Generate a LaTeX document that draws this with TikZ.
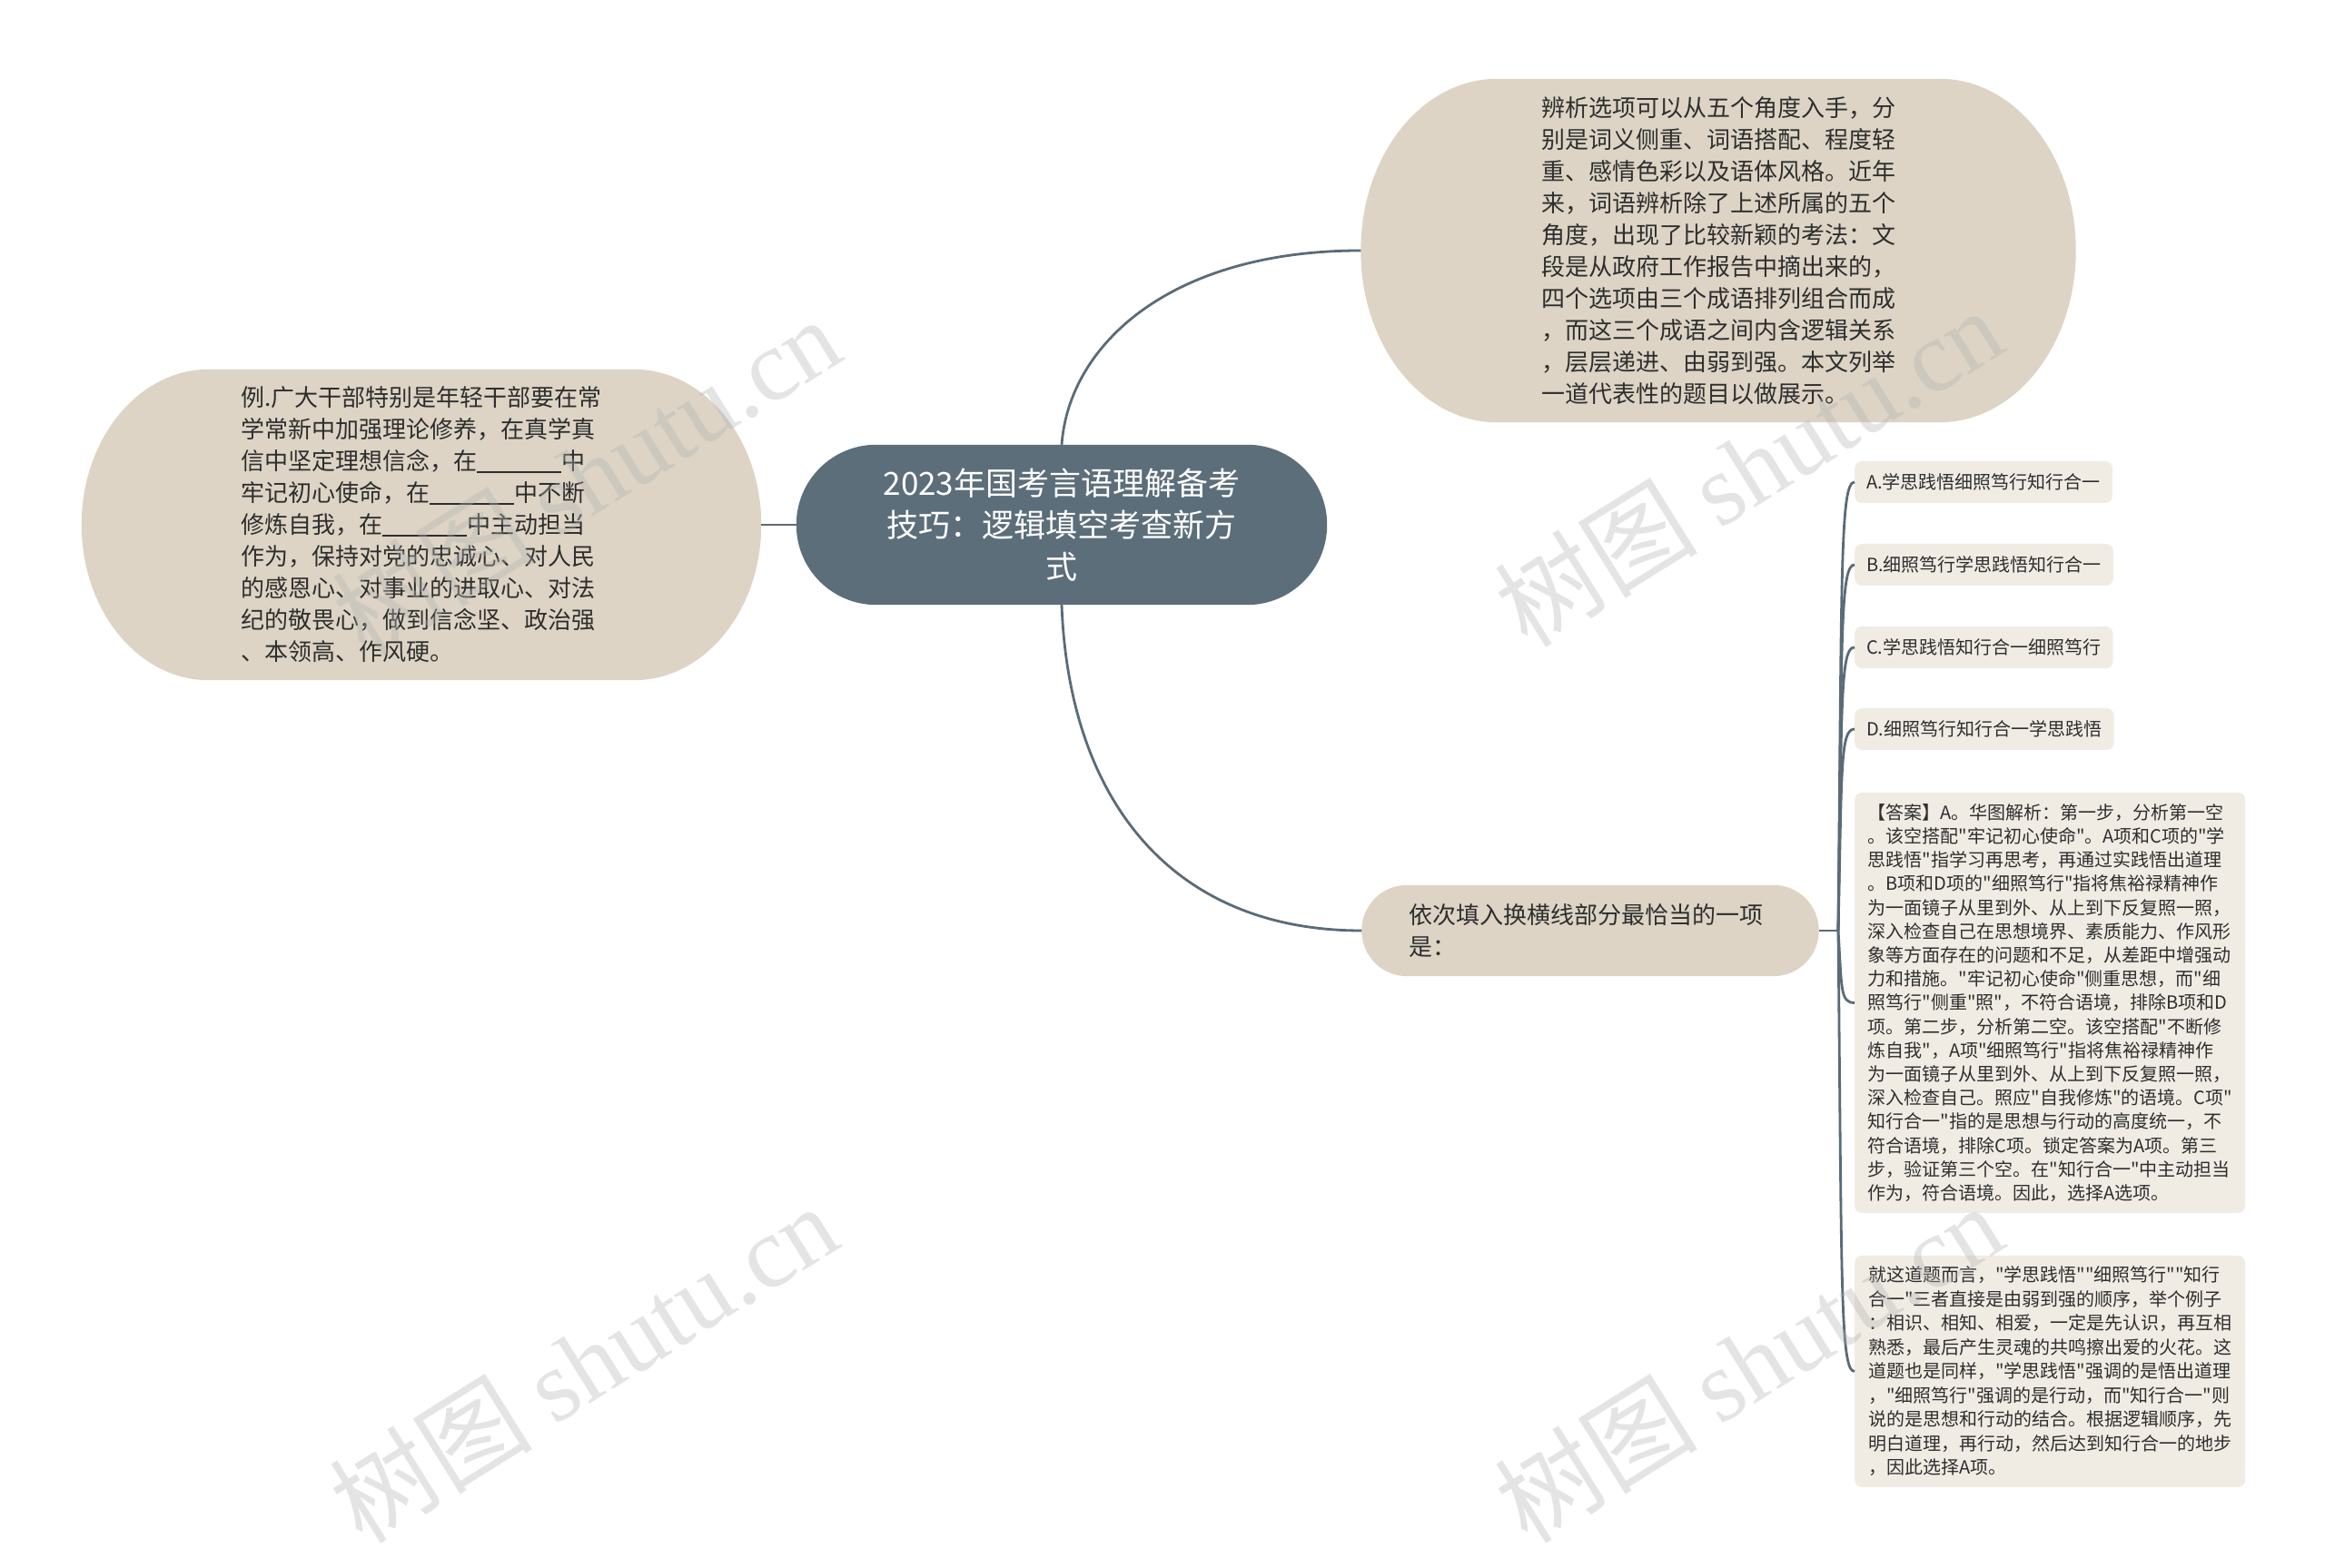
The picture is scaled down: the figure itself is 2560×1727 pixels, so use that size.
\documentclass[tikz,border=0pt]{standalone}
\usepackage{fontspec}
\newfontfamily\cjk{Noto Sans CJK SC}
\newfontfamily\wmserif{Liberation Serif}
\usetikzlibrary{calc}
\definecolor{slate}{HTML}{5C6E7A}
\definecolor{linec}{HTML}{5A6B77}
\definecolor{sand}{HTML}{DDD4C5}
\definecolor{paper}{HTML}{F0ECE4}
\definecolor{ink}{HTML}{2E2E2E}
\pgfdeclarelayer{bg}
\pgfsetlayers{bg,main}
\newcommand\fillblank{\rule[-3pt]{93pt}{1.4pt}}
\newcommand\pillbg[4]{%
\begin{pgfonlayer}{bg}
\fill[#4] ($(#1.north west)+(#2,0)$) -- ($(#1.north east)+(-#2,0)$)
  arc[start angle=90,end angle=0,x radius=#2,y radius=#3]
  -- ($(#1.south east)+(0,#3)$)
  arc[start angle=0,end angle=-90,x radius=#2,y radius=#3]
  -- ($(#1.south west)+(#2,0)$)
  arc[start angle=-90,end angle=-180,x radius=#2,y radius=#3]
  -- ($(#1.north west)+(0,-#3)$)
  arc[start angle=180,end angle=90,x radius=#2,y radius=#3] -- cycle;
\end{pgfonlayer}}
\begin{document}
\begin{tikzpicture}[x=1pt,y=1pt,
  conn/.style={draw=linec, line width=2.8pt},
  bigtext/.style={font=\cjk\fontsize{26}{35}\selectfont, text=ink, align=left, inner sep=0pt},
  roottext/.style={font=\cjk\fontsize{35}{46}\selectfont, text=white, align=center, inner sep=0pt},
  leafbox/.style={fill=paper, rounded corners=8pt, font=\cjk\fontsize{20}{26.2}\selectfont, text=ink, align=left, inner xsep=13pt, inner ysep=0pt, anchor=west},
  wm/.style={text=gray!60, opacity=0.35, font=\cjk\fontsize{112}{112}\selectfont, inner sep=0pt, rotate=32}
]
\begin{pgfonlayer}{bg}
\fill[white] (0,0) rectangle (2560,1727);
\end{pgfonlayer}
\useasboundingbox (0,0) rectangle (2560,1727);

% central
\node[roottext, minimum width=584pt, minimum height=176pt] (c) at (1169,1149)
 {2023年国考言语理解备考\\技巧：逻辑填空考查新方\\式};
\pillbg{c}{88}{88}{slate}

% left
\node[bigtext, minimum width=748pt, minimum height=342pt] (L) at (464,1149)
 {例.广大干部特别是年轻干部要在常\\
  学常新中加强理论修养，在真学真\\
  信中坚定理想信念，在\fillblank 中\\
  牢记初心使命，在\fillblank 中不断\\
  修炼自我，在\fillblank 中主动担当\\
  作为，保持对党的忠诚心、对人民\\
  的感恩心、对事业的进取心、对法\\
  纪的敬畏心，做到信念坚、政治强\\
  、本领高、作风硬。};
\pillbg{L}{140}{171}{sand}

% top right
\node[bigtext, minimum width=787pt, minimum height=378pt] (T) at (1892,1451)
 {辨析选项可以从五个角度入手，分\\
  别是词义侧重、词语搭配、程度轻\\
  重、感情色彩以及语体风格。近年\\
  来，词语辨析除了上述所属的五个\\
  角度，出现了比较新颖的考法：文\\
  段是从政府工作报告中摘出来的，\\
  四个选项由三个成语排列组合而成\\
  ，而这三个成语之间内含逻辑关系\\
  ，层层递进、由弱到强。本文列举\\
  一道代表性的题目以做展示。};
\pillbg{T}{150}{189}{sand}

% question node
\node[bigtext, minimum width=503pt, minimum height=100pt, text width=400pt] (B) at (1751,702)
 {依次填入换横线部分最恰当的一项\\是：};
\pillbg{B}{50}{50}{sand}

\coordinate (j) at (2024,702);

% leaves
\node[leafbox, minimum height=46pt] (A) at (2042,1196) {A.学思践悟细照笃行知行合一};
\node[leafbox, minimum height=46pt] (Bo) at (2042,1105) {B.细照笃行学思践悟知行合一};
\node[leafbox, minimum height=46pt] (Co) at (2042,1014) {C.学思践悟知行合一细照笃行};
\node[leafbox, minimum height=46pt] (Do) at (2042,924) {D.细照笃行知行合一学思践悟};
\node[leafbox, minimum width=430pt, minimum height=463pt] (Ans) at (2042,622.5)
 {【答案】A。华图解析：第一步，分析第一空\\
。该空搭配"牢记初心使命"。A项和C项的"学\\
思践悟"指学习再思考，再通过实践悟出道理\\
。B项和D项的"细照笃行"指将焦裕禄精神作\\
为一面镜子从里到外、从上到下反复照一照，\\
深入检查自己在思想境界、素质能力、作风形\\
象等方面存在的问题和不足，从差距中增强动\\
力和措施。"牢记初心使命"侧重思想，而"细\\
照笃行"侧重"照"，不符合语境，排除B项和D\\
项。第二步，分析第二空。该空搭配"不断修\\
炼自我"，A项"细照笃行"指将焦裕禄精神作\\
为一面镜子从里到外、从上到下反复照一照，\\
深入检查自己。照应"自我修炼"的语境。C项"\\
知行合一"指的是思想与行动的高度统一，不\\
符合语境，排除C项。锁定答案为A项。第三\\
步，验证第三个空。在"知行合一"中主动担当\\
作为，符合语境。因此，选择A选项。};
\node[leafbox, minimum width=430pt, minimum height=255pt, font=\cjk\fontsize{20}{26.5}\selectfont] (Ls) at (2042,216.5)
 {就这道题而言，"学思践悟""细照笃行""知行\\
合一"三者直接是由弱到强的顺序，举个例子\\
：相识、相知、相爱，一定是先认识，再互相\\
熟悉，最后产生灵魂的共鸣擦出爱的火花。这\\
道题也是同样，"学思践悟"强调的是悟出道理\\
，"细照笃行"强调的是行动，而"知行合一"则\\
说的是思想和行动的结合。根据逻辑顺序，先\\
明白道理，再行动，然后达到知行合一的地步\\
，因此选择A项。};

% connectors
\draw[conn] (L.east) -- (c.west);
\draw[conn] (c.north) .. controls +(8,110) and +(-210,0) .. (T.west);
\draw[conn] (c.south) .. controls +(8,-214) and +(-210,0) .. (B.west);
\draw[conn] (B.east) -- (j);
\draw[conn] (j) .. controls +(4,395) and +(-16,0) .. (A.west);
\draw[conn] (j) .. controls +(4,322) and +(-16,0) .. (Bo.west);
\draw[conn] (j) .. controls +(4,250) and +(-16,0) .. (Co.west);
\draw[conn] (j) .. controls +(4,178) and +(-16,0) .. (Do.west);
\draw[conn] (j) .. controls +(4,-64) and +(-16,0) .. (Ans.west);
\draw[conn] (j) .. controls +(4,-389) and +(-16,0) .. (Ls.west);

% watermarks
\node[wm] (w1) at (645,1203) {树图 {\wmserif shutu.cn}};
\node[wm] (w2) at (1925,1213) {树图 {\wmserif shutu.cn}};
\node[wm] (w3) at (642,226) {树图 {\wmserif shutu.cn}};
\node[wm] (w4) at (1925,226) {树图 {\wmserif shutu.cn}};
\end{tikzpicture}
\end{document}
